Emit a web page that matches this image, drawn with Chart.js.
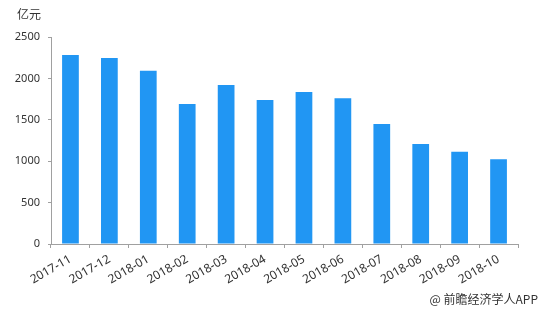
<!DOCTYPE html>
<html lang="zh">

<head>
  <meta charset="UTF-8">
  <title>Chart</title>
  <style>
    body { margin: 0; background: #fff; }
    .box { position: relative; width: 545px; height: 313px; }
    .unit { position: absolute; left: 17px; top: 5px; font: 12px 'Noto Sans CJK SC'; color: #333; }
    .source { position: absolute; right: 7px; top: 290px; font: 12px 'Noto Sans CJK SC'; color: #333; }
  </style>
</head>

<body>
  <div class="box">
    <canvas id="myChart" width="545" height="313"></canvas>
    <div class="unit">亿元</div>
    <div class="source">@ 前瞻经济学人APP</div>
  </div>
  <script src="https://cdn.jsdelivr.net/npm/chart.js"></script>
  <script>
    const months = ['2017-11', '2017-12', '2018-01', '2018-02', '2018-03', '2018-04',
      '2018-05', '2018-06', '2018-07', '2018-08', '2018-09', '2018-10']
    const values = [2283, 2246, 2093, 1691, 1920, 1739, 1836, 1759, 1449, 1208, 1113, 1023]
    const yTicks = [0, 500, 1000, 1500, 2000, 2500]

    const axisColor = '#a0a0a0'

    new Chart(document.getElementById('myChart'), {
      type: 'bar',
      data: {
        labels: months,
        datasets: [{
          data: values,
          backgroundColor: '#2196F3',
          categoryPercentage: 1,
          barPercentage: 0.43,
        }]
      },
      options: {
        responsive: false,
        animation: false,
        layout: { padding: { left: 0, top: 37, right: 27, bottom: 0 } },
        plugins: { legend: { display: false }, tooltip: { enabled: false } },
        scales: {
          x: {
            grid: { offset: true, drawOnChartArea: false, tickLength: 4, color: axisColor },
            border: { color: axisColor },
            ticks: { font: { size: 12, family: 'Noto Sans' }, color: '#333', minRotation: 30, maxRotation: 30, padding: 4 },
            afterFit: (s) => { s.height = 69 }
          },
          y: {
            min: 0,
            max: 2500,
            afterBuildTicks: (s) => { s.ticks = yTicks.map(v => ({ value: v })) },
            grid: { drawOnChartArea: false, tickLength: 3, color: axisColor },
            border: { color: axisColor },
            ticks: { font: { size: 11, family: 'Noto Sans' }, color: '#333', padding: 8, callback: (v) => String(v) },
            afterFit: (s) => { s.width = 51 }
          }
        }
      }
    });
  </script>
</body>

</html>
